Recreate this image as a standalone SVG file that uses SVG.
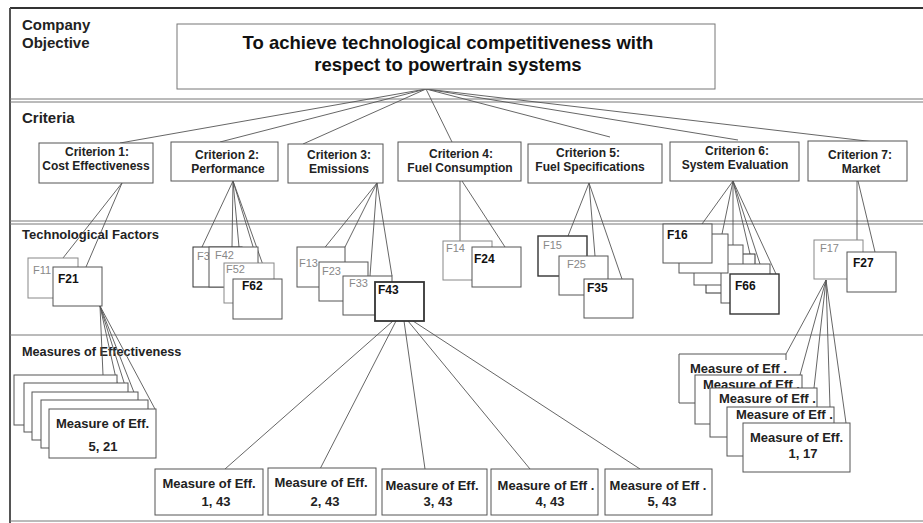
<svg xmlns="http://www.w3.org/2000/svg" width="923" height="523" viewBox="0 0 923 523">
<style>
.bg{fill:#fff}
.frame{stroke:#555;stroke-width:2;fill:none}
.div{stroke:#777;stroke-width:1;fill:none}
.box{fill:#fff;stroke:#555;stroke-width:1}
.boxb{fill:#fff;stroke:#333;stroke-width:1.8}
.edge{fill:none;stroke:#555;stroke-width:1}
.conn line{stroke:#555;stroke-width:0.9}
text{font-family:"Liberation Sans",Arial,sans-serif}
.sec{font-size:15px;font-weight:bold;fill:#222}
.sec2{font-size:13px;font-weight:bold;fill:#222}
.obj{font-size:18.5px;font-weight:bold;fill:#111;text-anchor:middle}
.crit{font-size:12px;font-weight:bold;fill:#222;text-anchor:middle}
.fg{font-size:11px;fill:#888}
.fb{font-size:12px;font-weight:bold;fill:#111}
.ms{font-size:13px;font-weight:bold;fill:#222}
.msc{font-size:13px;font-weight:bold;fill:#222;text-anchor:middle}
</style>
<rect class="bg" x="0" y="0" width="923" height="523"/>
<g id="frame">
<line class="frame" x1="10" y1="8" x2="923" y2="8" style="stroke:#333"/>
<line class="frame" x1="10" y1="8" x2="10" y2="523"/>
<line class="div" x1="10" y1="99" x2="923" y2="99"/>
<line class="div" x1="10" y1="102" x2="923" y2="102"/>
<line class="div" x1="10" y1="221" x2="923" y2="221"/>
<line class="div" x1="10" y1="224" x2="923" y2="224"/>
<line class="div" x1="10" y1="335" x2="923" y2="335"/>
<line class="div" x1="10" y1="521" x2="923" y2="521"/>
</g>
<g id="section-labels">
<text class="sec" x="22" y="30">Company</text>
<text class="sec" x="22" y="48">Objective</text>
<text class="sec" x="22" y="123">Criteria</text>
<text class="sec2" x="22" y="239">Technological Factors</text>
<text class="sec2" x="22" y="356" style="font-size:12.7px">Measures of Effectiveness</text>
</g>
<g id="connectors" class="conn">
<line x1="426" y1="89" x2="120" y2="143"/>
<line x1="426" y1="89" x2="220" y2="142"/>
<line x1="426" y1="89" x2="303" y2="144"/>
<line x1="426" y1="89" x2="452" y2="142"/>
<line x1="426" y1="89" x2="610" y2="137"/>
<line x1="426" y1="89" x2="738" y2="140"/>
<line x1="426" y1="89" x2="875" y2="142"/>
<line x1="122" y1="183" x2="63" y2="258"/>
<line x1="122" y1="183" x2="86" y2="267"/>
<line x1="233" y1="181" x2="202" y2="247"/>
<line x1="233" y1="181" x2="232" y2="247"/>
<line x1="233" y1="181" x2="239" y2="247"/>
<line x1="233" y1="181" x2="258" y2="263"/>
<line x1="233" y1="181" x2="268" y2="279"/>
<line x1="377" y1="183" x2="322" y2="251"/>
<line x1="377" y1="183" x2="345" y2="247"/>
<line x1="377" y1="183" x2="370" y2="276"/>
<line x1="377" y1="183" x2="392" y2="276"/>
<line x1="460" y1="181" x2="460" y2="241"/>
<line x1="462" y1="181" x2="505" y2="247"/>
<line x1="589" y1="183" x2="568" y2="236"/>
<line x1="589" y1="183" x2="595" y2="256"/>
<line x1="589" y1="183" x2="622" y2="279"/>
<line x1="733" y1="181" x2="702" y2="224"/>
<line x1="733" y1="181" x2="722" y2="234"/>
<line x1="733" y1="181" x2="733" y2="245"/>
<line x1="733" y1="181" x2="750" y2="254"/>
<line x1="733" y1="181" x2="760" y2="264"/>
<line x1="733" y1="181" x2="776" y2="274"/>
<line x1="857" y1="181" x2="857" y2="240"/>
<line x1="858" y1="181" x2="875" y2="252"/>
<line x1="100" y1="306" x2="103" y2="375"/>
<line x1="100" y1="306" x2="117" y2="383"/>
<line x1="100" y1="306" x2="127" y2="392"/>
<line x1="100" y1="306" x2="137" y2="400"/>
<line x1="100" y1="306" x2="155" y2="409"/>
<line x1="393" y1="321" x2="225" y2="469"/>
<line x1="396" y1="321" x2="320" y2="469"/>
<line x1="404" y1="321" x2="425" y2="469"/>
<line x1="408" y1="321" x2="530" y2="469"/>
<line x1="413" y1="321" x2="640" y2="469"/>
<line x1="826" y1="280" x2="786" y2="354"/>
<line x1="826" y1="280" x2="800" y2="375"/>
<line x1="826" y1="280" x2="814" y2="388"/>
<line x1="826" y1="280" x2="830" y2="407"/>
<line x1="826" y1="280" x2="846" y2="423"/>
</g>
<g id="objective">
<rect class="box" x="177" y="24" width="538" height="65" style="stroke:#777"/>
<text class="obj" x="448" y="49">To achieve technological competitiveness with</text>
<text class="obj" x="448" y="71">respect to powertrain systems</text>
</g>
<g id="criterion1"><rect class="box" x="39" y="143" width="114" height="40"/><text class="crit" x="97" y="156">Criterion 1:</text><text class="crit" x="96" y="170">Cost Effectiveness</text></g>
<g id="criterion2"><rect class="box" x="171" y="142" width="107" height="39"/><text class="crit" x="227" y="159">Criterion 2:</text><text class="crit" x="228" y="173">Performance</text></g>
<g id="criterion3"><rect class="box" x="288" y="144" width="95" height="39"/><text class="crit" x="339" y="159">Criterion 3:</text><text class="crit" x="339" y="173">Emissions</text></g>
<g id="criterion4"><rect class="box" x="398" y="142" width="123" height="39"/><text class="crit" x="461" y="158">Criterion 4:</text><text class="crit" x="460" y="172">Fuel Consumption</text></g>
<g id="criterion5"><rect class="box" x="528" y="144" width="134" height="39"/><text class="crit" x="588" y="157">Criterion 5:</text><text class="crit" x="590" y="171">Fuel Specifications</text></g>
<g id="criterion6"><rect class="box" x="670" y="142" width="129" height="39"/><text class="crit" x="737" y="155">Criterion 6:</text><text class="crit" x="735" y="169">System Evaluation</text></g>
<g id="criterion7"><rect class="box" x="808" y="141" width="99" height="40"/><text class="crit" x="860" y="159">Criterion 7:</text><text class="crit" x="861" y="173">Market</text></g>
<g id="factors-c1">
<g id="F11"><rect class="box" x="28" y="258" width="50" height="40" style="stroke:#888"/><text class="fg" x="33" y="274">F11</text></g>
<g id="F21"><rect class="box" x="53" y="267" width="49" height="39"/><text class="fb" x="58" y="283">F21</text></g>
</g>
<g id="factors-c2">
<g id="F32"><rect class="box" x="193" y="247" width="49" height="40" style="stroke:#333"/><text class="fg" x="197" y="260">F32</text></g>
<g id="F42"><rect class="box" x="209" y="247" width="49" height="40"/><text class="fg" x="215" y="259">F42</text></g>
<g id="F52"><rect class="box" x="224" y="263" width="50" height="40" style="stroke:#888"/><text class="fg" x="226" y="273">F52</text></g>
<g id="F62"><rect class="box" x="233" y="279" width="49" height="40"/><text class="fb" x="242" y="290">F62</text></g>
</g>
<g id="factors-c3">
<g id="F13"><rect class="box" x="297" y="247" width="48" height="40"/><text class="fg" x="299" y="267">F13</text></g>
<g id="F23"><rect class="box" x="319" y="262" width="49" height="39"/><text class="fg" x="322" y="275">F23</text></g>
<g id="F33"><rect class="box" x="343" y="276" width="49" height="39"/><text class="fg" x="349" y="287">F33</text></g>
<g id="F43"><rect class="boxb" x="375" y="282" width="49" height="39"/><text class="fb" x="378" y="294">F43</text></g>
</g>
<g id="factors-c4">
<g id="F14"><rect class="box" x="443" y="241" width="49" height="39" style="stroke:#888"/><text class="fg" x="446" y="252">F14</text></g>
<g id="F24"><rect class="box" x="472" y="247" width="49" height="40"/><text class="fb" x="474" y="263">F24</text></g>
</g>
<g id="factors-c5">
<g id="F15"><rect class="box" x="538" y="236" width="49" height="40" style="stroke:#333;stroke-width:1.4"/><text class="fg" x="543" y="249">F15</text></g>
<g id="F25"><rect class="box" x="559" y="256" width="49" height="39"/><text class="fg" x="567" y="268">F25</text></g>
<g id="F35"><rect class="box" x="584" y="279" width="49" height="39"/><text class="fb" x="587" y="292">F35</text></g>
</g>
<g id="factors-c6">
<g id="F46"><rect class="box" x="706" y="254" width="49" height="39" style="stroke:#333"/></g>
<g id="F36"><rect class="box" x="694" y="245" width="49" height="40"/></g>
<g id="F56"><rect class="box" x="721" y="264" width="49" height="39"/></g>
<g id="F26"><rect class="box" x="679" y="234" width="49" height="39"/></g>
<g id="F16"><rect class="box" x="663" y="224" width="49" height="39"/><text class="fb" x="667" y="239">F16</text></g>
<g id="F66"><rect class="box" x="730" y="274" width="49" height="40" style="stroke:#333;stroke-width:1.4"/><text class="fb" x="735" y="290">F66</text></g>
</g>
<g id="factors-c7">
<g id="F17"><rect class="box" x="814" y="240" width="49" height="39" style="stroke:#888"/><text class="fg" x="820" y="252">F17</text></g>
<g id="F27"><rect class="box" x="847" y="252" width="49" height="40"/><text class="fb" x="853" y="267">F27</text></g>
</g>
<g id="measures-F21">
<rect class="box" x="14" y="375" width="103" height="50"/>
<rect class="box" x="24" y="383" width="104" height="49"/>
<rect class="box" x="32" y="392" width="106" height="48"/>
<rect class="box" x="41" y="400" width="107" height="48"/>
<g id="M5-21"><rect class="box" x="49" y="409" width="107" height="49"/><text class="msc" x="102.5" y="428">Measure of Eff.</text><text class="msc" x="103" y="451">5, 21</text></g>
</g>
<g id="measures-F43">
<g id="M1-43"><rect class="box" x="155" y="469" width="108" height="46"/><text class="msc" x="209" y="488">Measure of Eff.</text><text class="msc" x="216" y="506">1, 43</text></g>
<g id="M2-43"><rect class="box" x="268" y="468" width="108" height="47"/><text class="msc" x="321" y="487">Measure of Eff.</text><text class="msc" x="325" y="506">2, 43</text></g>
<g id="M3-43"><rect class="box" x="382" y="469" width="105" height="46"/><text class="msc" x="432" y="490">Measure of Eff.</text><text class="msc" x="438" y="506">3, 43</text></g>
<g id="M4-43"><rect class="box" x="491" y="469" width="107" height="46"/><text class="msc" x="546" y="490">Measure of Eff .</text><text class="msc" x="550" y="506">4, 43</text></g>
<g id="M5-43"><rect class="box" x="605" y="469" width="107" height="46"/><text class="msc" x="658" y="490">Measure of Eff .</text><text class="msc" x="662" y="506">5, 43</text></g>
</g>
<g id="measures-F17">
<g id="R1"><rect x="679" y="354" width="107" height="49" fill="#fff"/><path class="edge" d="M786,360 V354 H679 V403 H700"/><text class="ms" x="690" y="373">Measure of Eff .</text></g>
<g id="R2"><rect class="box" x="695" y="375" width="107" height="49"/><text class="ms" x="703" y="389">Measure of Eff .</text></g>
<g id="R3"><rect class="box" x="710" y="388" width="107" height="49"/><text class="ms" x="719" y="403">Measure of Eff .</text></g>
<g id="R4"><rect class="box" x="727" y="407" width="107" height="49"/><text class="ms" x="736" y="419">Measure of Eff .</text></g>
<g id="R5"><rect class="box" x="743" y="423" width="107" height="49"/><text class="msc" x="796.5" y="442">Measure of Eff.</text><text class="msc" x="803" y="458">1, 17</text></g>
</g>
</svg>
